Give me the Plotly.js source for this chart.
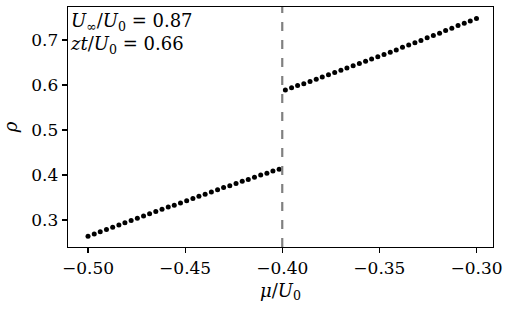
<!DOCTYPE html>
<html>
<head>
<meta charset="utf-8">
<script src="https://cdn.plot.ly/plotly-3.0.1.min.js"></script>
<style>html,body{margin:0;padding:0;background:#fff;}#chart{width:507px;height:313px;}</style>
</head>
<body>
<div id="chart"></div>
<script>
const muLow = [-0.5000,-0.4968,-0.4937,-0.4905,-0.4873,-0.4841,-0.4810,-0.4778,-0.4746,-0.4714,-0.4683,-0.4651,-0.4619,-0.4587,-0.4556,-0.4524,-0.4492,-0.4460,-0.4429,-0.4397,-0.4365,-0.4333,-0.4302,-0.4270,-0.4238,-0.4206,-0.4175,-0.4143,-0.4111,-0.4079,-0.4048,-0.4016];
const rhoLow = [0.264,0.269,0.274,0.279,0.284,0.289,0.294,0.299,0.304,0.309,0.314,0.319,0.324,0.329,0.333,0.338,0.343,0.348,0.353,0.357,0.362,0.367,0.372,0.376,0.381,0.386,0.390,0.395,0.400,0.404,0.409,0.413];
const muHigh = [-0.3984,-0.3952,-0.3921,-0.3889,-0.3857,-0.3825,-0.3794,-0.3762,-0.3730,-0.3698,-0.3667,-0.3635,-0.3603,-0.3571,-0.3540,-0.3508,-0.3476,-0.3444,-0.3413,-0.3381,-0.3349,-0.3317,-0.3286,-0.3254,-0.3222,-0.3190,-0.3159,-0.3127,-0.3095,-0.3063,-0.3032,-0.3000];
const rhoHigh = [0.589,0.594,0.599,0.603,0.608,0.613,0.618,0.623,0.628,0.633,0.638,0.643,0.648,0.653,0.658,0.663,0.668,0.673,0.678,0.684,0.689,0.694,0.699,0.705,0.710,0.715,0.721,0.726,0.732,0.737,0.742,0.748];
const muCritical = -0.40;
const xTickVals = [-0.50,-0.45,-0.40,-0.35,-0.30];
const xTickText = ['\u22120.50','\u22120.45','\u22120.40','\u22120.35','\u22120.30'];
const yTickVals = [0.3,0.4,0.5,0.6,0.7];
const yTickText = ['0.3','0.4','0.5','0.6','0.7'];
const annotationLines = ['<i>U</i><sub>\u221e</sub>/<i>U</i><sub>0</sub> = 0.87','<i>zt</i>/<i>U</i><sub>0</sub> = 0.66'];

const FONT = 'DejaVu Serif';
const marker = {color:'#000', size:5};
const traces = [
  {x: muLow, y: rhoLow, mode:'markers', type:'scatter', marker: marker, hoverinfo:'skip'},
  {x: muHigh, y: rhoHigh, mode:'markers', type:'scatter', marker: marker, hoverinfo:'skip'}
];
function axisBase() {
  return {
    showgrid:false, zeroline:false, showline:true, linecolor:'#000', linewidth:1.3, mirror:true,
    ticks:'outside', ticklen:5, tickwidth:1.2, tickcolor:'#000',
    tickfont:{family:FONT, size:17, color:'#000'}
  };
}
const xa = axisBase();
xa.range = [-0.5103,-0.2915]; xa.tickvals = xTickVals; xa.ticktext = xTickText; xa.tickmode = 'array';
xa.title = {text:'<i>\u03bc</i>/<i>U</i><sub>0</sub>', font:{family:FONT, size:18, color:'#000'}, standoff:7};
const ya = axisBase();
ya.range = [0.2400,0.7733]; ya.tickvals = yTickVals; ya.ticktext = yTickText; ya.tickmode = 'array';
ya.title = {text:'<i>\u03c1</i>', font:{family:FONT, size:18, color:'#000'}, standoff:13};
const layout = {
  width:507, height:313,
  margin:{l:68, r:14, t:7, b:66},
  paper_bgcolor:'#fff', plot_bgcolor:'#fff',
  showlegend:false,
  font:{family:FONT, size:17, color:'#000'},
  xaxis: xa,
  yaxis: ya,
  shapes:[{type:'line', xref:'x', yref:'paper', x0:muCritical, x1:muCritical, y0:0, y1:1,
    line:{color:'#808080', width:2.2, dash:'dash'}}],
  annotations:[
    {xref:'paper', yref:'paper', x:0.0, y:0.995, xanchor:'left', yanchor:'top', showarrow:false,
     align:'left', text: annotationLines.join('<br>'), font:{family:FONT, size:18, color:'#000'}}
  ]
};
Plotly.newPlot('chart', traces, layout, {staticPlot:true, displayModeBar:false});
</script>
</body>
</html>
